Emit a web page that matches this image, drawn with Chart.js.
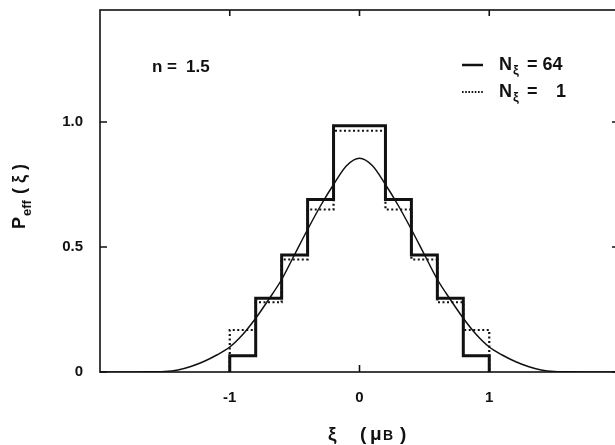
<!DOCTYPE html>
<html lang="en">
<head>
    <meta charset="UTF-8">
    <title> Peff(xi) - n = 1.5 </title>
    <script src="https://cdn.jsdelivr.net/npm/chart.js"></script>
    <style>
        /* page: plain white, chart is a bit wider than the window so the right frame falls off */
        body {
            margin: 0px;
            background: white;
            overflow: hidden;
        }
        #box {
            width: 622px;
            height: 445px;
        }
    </style>
</head>
<body>

<div id="box">
    <canvas id="graph" width="622" height="445"></canvas>
</div>

<script>
    // axis ticks
    const xTicks = [-1, 0, 1];
    const xTickLabels = ['-1', '0', '1'];
    const yTicks = [0, 0.5, 1];
    const yTickLabels = ['0', '0.5', '1.0'];

    // histogram bins (edges) and the two step heights
    const binEdges = [-1, -0.8, -0.6, -0.4, -0.2, 0.2, 0.4, 0.6, 0.8, 1];
    const peff64 = [0.065, 0.295, 0.468, 0.69, 0.985, 0.69, 0.468, 0.295, 0.065];
    const peff1 = [0.168, 0.279, 0.45, 0.65, 0.965, 0.65, 0.45, 0.279, 0.168];

    // smooth curve
    const curveXi = [-2, -1.9, -1.8, -1.7, -1.6, -1.5, -1.4, -1.3, -1.2, -1.1, -1,
        -0.9, -0.8, -0.7, -0.6, -0.5, -0.4, -0.3, -0.2, -0.1, 0,
        0.1, 0.2, 0.3, 0.4, 0.5, 0.6, 0.7, 0.8, 0.9, 1,
        1.1, 1.2, 1.3, 1.4, 1.5, 1.6, 1.7, 1.8, 1.9, 2];
    const curveP = [0, 0, 0, 0, 0.001, 0.002, 0.008, 0.022, 0.042, 0.068, 0.1,
        0.15, 0.215, 0.29, 0.37, 0.47, 0.57, 0.665, 0.75, 0.825, 0.855,
        0.825, 0.75, 0.665, 0.57, 0.47, 0.37, 0.29, 0.215, 0.15, 0.1,
        0.068, 0.042, 0.022, 0.008, 0.002, 0.001, 0, 0, 0, 0];

    const FONT = '"Liberation Sans", Arial, sans-serif';

    function stepPoints(edges, heights) {
        // start on the axis, one point per bin, back down to the axis
        let pts = [{x: edges[0], y: 0}];
        for (let i = 0; i < heights.length; i++) {
            pts.push({x: edges[i], y: heights[i]});
        }
        pts.push({x: edges[edges.length - 1], y: 0});
        return pts;
    }

    const framePlugin = {
        id: 'frame',
        afterDatasetsDraw(chart) {
            const ctx = chart.ctx;
            const a = chart.chartArea;
            const xs = chart.scales.x;
            const ys = chart.scales.y;
            ctx.save();
            ctx.strokeStyle = '#111';
            ctx.lineWidth = 1.6;
            ctx.strokeRect(a.left, a.top, a.right - a.left, a.bottom - a.top);
            ctx.beginPath();
            xTicks.forEach(function (v) {
                const px = xs.getPixelForValue(v);
                ctx.moveTo(px, a.bottom); ctx.lineTo(px, a.bottom - 7);
                ctx.moveTo(px, a.top); ctx.lineTo(px, a.top + 6);
            });
            yTicks.forEach(function (v) {
                const py = ys.getPixelForValue(v);
                ctx.moveTo(a.left, py); ctx.lineTo(a.left + 7, py);
                ctx.moveTo(a.right, py); ctx.lineTo(a.right - 7, py);
            });
            ctx.stroke();
            ctx.restore();
        },
        afterDraw(chart) {
            const ctx = chart.ctx;
            ctx.save();
            ctx.fillStyle = '#111';
            ctx.textBaseline = 'alphabetic';
            ctx.textAlign = 'left';

            // n = 1.5
            ctx.font = 'bold 17px ' + FONT;
            ctx.fillText('n', 152, 72);
            ctx.fillText('=', 167, 72);
            ctx.fillText('1.5', 186, 72);

            // legend
            ctx.strokeStyle = '#111';
            ctx.lineWidth = 2.5;
            ctx.beginPath();
            ctx.moveTo(462, 65); ctx.lineTo(483, 65);
            ctx.stroke();
            ctx.setLineDash([1.6, 1.6]);
            ctx.lineWidth = 1.8;
            ctx.beginPath();
            ctx.moveTo(462, 92); ctx.lineTo(483, 92);
            ctx.stroke();
            ctx.setLineDash([]);

            ctx.font = 'bold 18px ' + FONT;
            ctx.fillText('N', 499, 70);
            ctx.fillText('= 64', 527, 70);
            ctx.fillText('N', 499, 97);
            ctx.fillText('=', 527, 97);
            ctx.fillText('1', 556, 97);
            ctx.font = 'bold 13px ' + FONT;
            ctx.fillText('ξ', 513, 74);
            ctx.fillText('ξ', 513, 101);

            // x axis title
            ctx.font = 'bold 19px ' + FONT;
            ctx.fillText('ξ', 328, 440);
            ctx.fillText('(', 360, 440);
            ctx.fillText('μ', 370, 440);
            ctx.font = 'bold 14px ' + FONT;
            ctx.fillText('B', 383, 440);
            ctx.font = 'bold 19px ' + FONT;
            ctx.fillText(')', 400, 440);

            // y axis title, rotated
            ctx.translate(25, 229);
            ctx.rotate(-Math.PI / 2);
            ctx.font = 'bold 18px ' + FONT;
            ctx.fillText('P', 0, 0);
            ctx.font = 'bold 13px ' + FONT;
            ctx.fillText('eff', 13, 6);
            ctx.font = 'bold 18px ' + FONT;
            ctx.fillText('( ξ )', 35, 0);
            ctx.restore();
        }
    };

    const config = {
        type: 'line',
        data: {
            datasets: [{
                label: 'curve',
                data: curveXi.map(function (x, i) { return {x: x, y: curveP[i]}; }),
                borderColor: '#111',
                borderWidth: 1.5,
                pointRadius: 0,
                cubicInterpolationMode: 'monotone',
                fill: false
            }, {
                label: 'N = 64',
                data: stepPoints(binEdges, peff64),
                borderColor: '#111',
                borderWidth: 3,
                pointRadius: 0,
                stepped: 'before',
                fill: false
            }, {
                label: 'N = 1',
                data: stepPoints(binEdges, peff1),
                borderColor: '#111',
                borderWidth: 2.2,
                borderDash: [2, 2.5],
                pointRadius: 0,
                stepped: 'before',
                fill: false
            }]
        },
        options: {
            responsive: false,
            animation: false,
            devicePixelRatio: 1,
            layout: {padding: {top: 10, right: 3, left: 0, bottom: 0}},
            plugins: {
                legend: {display: false},
                tooltip: {enabled: false}
            },
            scales: {
                x: {
                    type: 'linear',
                    min: -2,
                    max: 2,
                    grid: {display: false, drawTicks: false},
                    border: {display: false},
                    afterBuildTicks: function (s) { s.ticks = xTicks.map(function (v) { return {value: v}; }); },
                    afterFit: function (s) {
                        s.height = 73;
                        s.paddingLeft = 0;
                        s.paddingRight = 0;
                    },
                    ticks: {
                        padding: 17,
                        color: '#111',
                        font: {family: FONT, size: 15, weight: 'bold'},
                        callback: function (v) { return xTickLabels[xTicks.indexOf(v)]; }
                    }
                },
                y: {
                    type: 'linear',
                    min: 0,
                    max: 1.448,
                    grid: {display: false, drawTicks: false},
                    border: {display: false},
                    afterBuildTicks: function (s) { s.ticks = yTicks.map(function (v) { return {value: v}; }); },
                    afterFit: function (s) {
                        s.width = 100;
                        s.paddingTop = 0;
                        s.paddingBottom = 0;
                    },
                    ticks: {
                        padding: 17,
                        color: '#111',
                        font: {family: FONT, size: 15, weight: 'bold'},
                        callback: function (v) { return yTickLabels[yTicks.indexOf(v)]; }
                    }
                }
            }
        },
        plugins: [framePlugin]
    };

    let graph = new Chart(document.getElementById('graph'), config);
</script>
</body>
</html>
